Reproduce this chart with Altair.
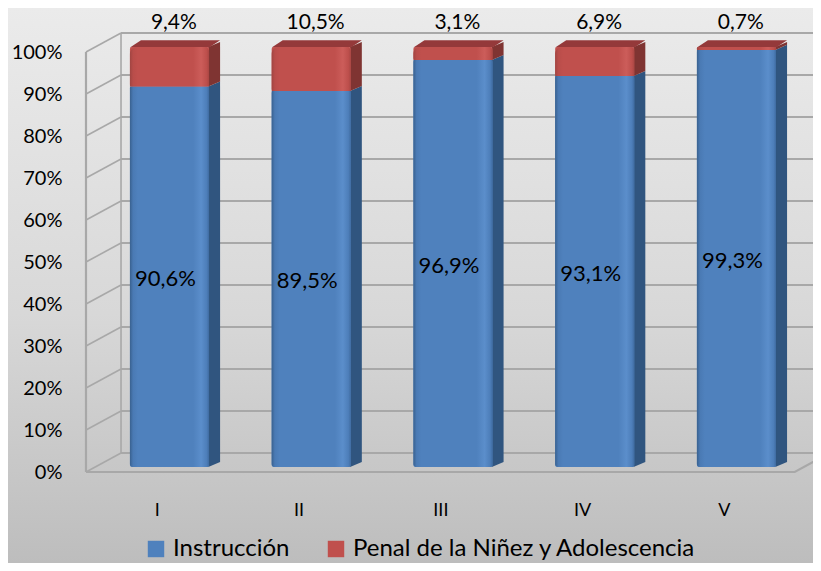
import altair as alt
import pandas as pd

categories = ["I", "II", "III", "IV", "V"]
instruccion = [90.6, 89.5, 96.9, 93.1, 99.3]
penal = [9.4, 10.5, 3.1, 6.9, 0.7]
instruccion_labels = ["90,6%", "89,5%", "96,9%", "93,1%", "99,3%"]
penal_labels = ["9,4%", "10,5%", "3,1%", "6,9%", "0,7%"]
series_names = ["Instrucción", "Penal de la Niñez  y Adolescencia"]
ticks = list(range(0, 101, 10))
category_centres = [0.5 + i for i in range(5)]

FONT = "Lato"
XS = alt.Scale(domain=[0, 5.129], nice=False, zero=False)
YS = alt.Scale(domain=[0, 106.43], nice=False, zero=False)
WALL_DX, WALL_DY = 0.247, 4.52   # depth of the 3D box, in axis units
BAR_L, BAR_R, BAR_D, BAR_Y, BAR_DY = 0.31, 0.868, 0.078, 1.2, 1.2
GRID = "#a8a8a8"

X_AXIS = alt.Axis(
    values=category_centres,
    labelExpr="['I','II','III','IV','V'][floor(datum.value)]",
    domain=False, ticks=False, grid=False, labelFont=FONT, labelFontSize=18,
    labelColor="#000000", labelPadding=29, labelFlush=False, labelOverlap=False, zindex=1)
Y_AXIS = alt.Axis(
    values=ticks, labelExpr="datum.value + '%'",
    domain=False, ticks=False, grid=False, labelFont=FONT, labelFontSize=20,
    labelColor="#000000", labelPadding=24, labelOverlap=False, zindex=1)

def gradient(stops):
    return alt.LinearGradient(
        gradient="linear", x1=0, x2=1, y1=0, y2=0,
        stops=[alt.GradientStop(offset=o, color=c) for o, c in stops],
    )

def X(f="x"):
    return alt.X(f"{f}:Q", scale=XS, axis=X_AXIS, title=None)

def Y(f="y"):
    return alt.Y(f"{f}:Q", scale=YS, axis=Y_AXIS, title=None)

# back wall gridlines
back = pd.DataFrame({"x": [WALL_DX] * len(ticks), "x2": [5.4] * len(ticks),
                     "y": [t + WALL_DY for t in ticks]})
back_rules = alt.Chart(back).mark_rule(color=GRID, strokeWidth=2).encode(
    x=X(), x2="x2:Q", y=Y())

# side wall diagonals
wall_rows = []
for t in ticks:
    wall_rows += [{"t": t, "x": 0, "y": t}, {"t": t, "x": WALL_DX, "y": t + WALL_DY}]
side_wall = alt.Chart(pd.DataFrame(wall_rows)).mark_line(color=GRID, strokeWidth=1.6).encode(
    x=X(), y=Y(), detail="t:N")

# floor front edge and wall verticals
edges = pd.DataFrame({
    "e": ["f", "f", "f", "v", "v"],
    "o": [0, 1, 2, 0, 1],
    "x": [0, 5, 5 + WALL_DX, 0, 0],
    "y": [0, 0, WALL_DY, 0, 100],
})
edge_lines = alt.Chart(edges).mark_line(color=GRID, strokeWidth=2.2).encode(
    x=X(), y=Y(), detail="e:N", order="o:Q")
back_vertical = alt.Chart(pd.DataFrame({"x": [WALL_DX], "y": [WALL_DY], "y2": [100 + WALL_DY]})).mark_rule(
    color=GRID, strokeWidth=1.6).encode(x=X(), y=Y(), y2="y2:Q")

# bar table
rows = []
for i, c in enumerate(categories):
    rows.append({"cat": c, "s": series_names[0], "l": i + BAR_L, "r": i + BAR_R,
                 "b": BAR_Y, "t": BAR_Y + instruccion[i]})
    rows.append({"cat": c, "s": series_names[1], "l": i + BAR_L, "r": i + BAR_R,
                 "b": BAR_Y + instruccion[i], "t": BAR_Y + 100})
bars = pd.DataFrame(rows)

# side faces
side_rows = []
for row in rows:
    side_rows.append({"cat": row["cat"], "s": row["s"], "x": row["r"] - 0.005,
                      "y": row["b"], "y2": row["t"]})
    side_rows.append({"cat": row["cat"], "s": row["s"], "x": row["r"] + BAR_D,
                      "y": row["b"] + BAR_DY, "y2": row["t"] + BAR_DY})
sides = pd.DataFrame(side_rows)
side_blue = alt.Chart(sides[sides.s == series_names[0]]).mark_area(color="#30557f").encode(
    x=X(), y=Y(), y2="y2:Q", detail="cat:N")
side_red = alt.Chart(sides[sides.s == series_names[1]]).mark_area(color="#7f3432").encode(
    x=X(), y=Y(), y2="y2:Q", detail="cat:N")

# top faces
top_rows = []
for i, c in enumerate(categories):
    top_rows.append({"cat": c, "y": BAR_Y + 100 - 0.1, "x": i + BAR_L, "x2": i + BAR_R})
    top_rows.append({"cat": c, "y": BAR_Y + 100 + BAR_DY + 0.4, "x": i + BAR_L + BAR_D, "x2": i + BAR_R + BAR_D})
top_face = alt.Chart(pd.DataFrame(top_rows)).mark_area(orient="horizontal", color="#94393a").encode(
    y=Y(), x=X(), x2="x2:Q", detail="cat:N")

# flat bars carry the legend, the shaded ones lie over them
flat = alt.Chart(bars).mark_bar(cornerRadius=2).encode(
    x=X("l"), x2="r:Q", y=Y("b"), y2="t:Q",
    color=alt.Color("s:N",
        scale=alt.Scale(domain=series_names, range=["#4f81bd", "#c0504d"]),
        legend=alt.Legend(
            orient="none", legendX=58, legendY=512, direction="horizontal", title=None,
            symbolType="square", symbolSize=270, symbolStrokeWidth=0,
            labelFont=FONT, labelFontSize=24, labelColor="#000000", labelLimit=420,
            columnPadding=34, symbolOffset=0, labelOffset=5,
        )),
)
blue_front = alt.Chart(bars[bars.s == series_names[0]]).mark_bar(
    cornerRadiusBottomLeft=3, cornerRadiusBottomRight=2,
    color=gradient([(0, "#39618f"), (0.04, "#4a7ab4"), (0.1, "#4f81bd"), (0.8, "#4f81bd"),
                    (0.9, "#5b8ecb"), (0.97, "#4d7eb9"), (1, "#3f6ba0")]),
).encode(x=X("l"), x2="r:Q", y=Y("b"), y2="t:Q")
red_front = alt.Chart(bars[bars.s == series_names[1]]).mark_bar(
    cornerRadiusTopLeft=7, cornerRadiusTopRight=5,
    color=gradient([(0, "#a04542"), (0.04, "#b94d4a"), (0.1, "#c0504d"), (0.8, "#c0504d"),
                    (0.9, "#cc5d5a"), (0.97, "#bd4f4c"), (1, "#a84643")]),
).encode(x=X("l"), x2="r:Q", y=Y("b"), y2="t:Q")

# value labels
label_df = pd.DataFrame({
    "x": [i + 0.56 for i in range(5)],
    "y": [BAR_Y - 0.5 + v / 2 for v in instruccion],
    "label": instruccion_labels,
})
inner = alt.Chart(label_df).mark_text(font=FONT, fontSize=22, color="#000000").encode(
    x=X(), y=Y(), text="label:N")
top_df = pd.DataFrame({
    "x": [i + 0.62 for i in range(5)],
    "y": [106.9] * 5,
    "label": penal_labels,
})
outer = alt.Chart(top_df).mark_text(font=FONT, fontSize=21, color="#000000").encode(
    x=X(), y=Y(), text="label:N")

# page background
background = alt.Chart(pd.DataFrame({"a": [0]})).mark_rect(
    color=alt.LinearGradient(
        gradient="linear", x1=0, x2=0, y1=0, y2=1,
        stops=[alt.GradientStop(offset=0, color="#ebebeb"),
               alt.GradientStop(offset=0.55, color="#d8d8d8"),
               alt.GradientStop(offset=1, color="#bdbdbd")],
    )
).encode(x=alt.value(-78), x2=alt.value(727), y=alt.value(-17), y2=alt.value(538))

chart = alt.layer(
    background, back_rules, side_wall, edge_lines, back_vertical,
    side_blue, side_red, top_face, flat, blue_front, red_front, inner, outer,
).properties(
    width=727, height=447,
    padding={"left": 78, "top": 17, "right": 0, "bottom": 91},
    autosize=alt.AutoSizeParams(type="none"),
    background="#d8d8d8",
).configure_view(stroke=None)

chart.save("out.html", embed_options={"renderer": "svg", "actions": False})
